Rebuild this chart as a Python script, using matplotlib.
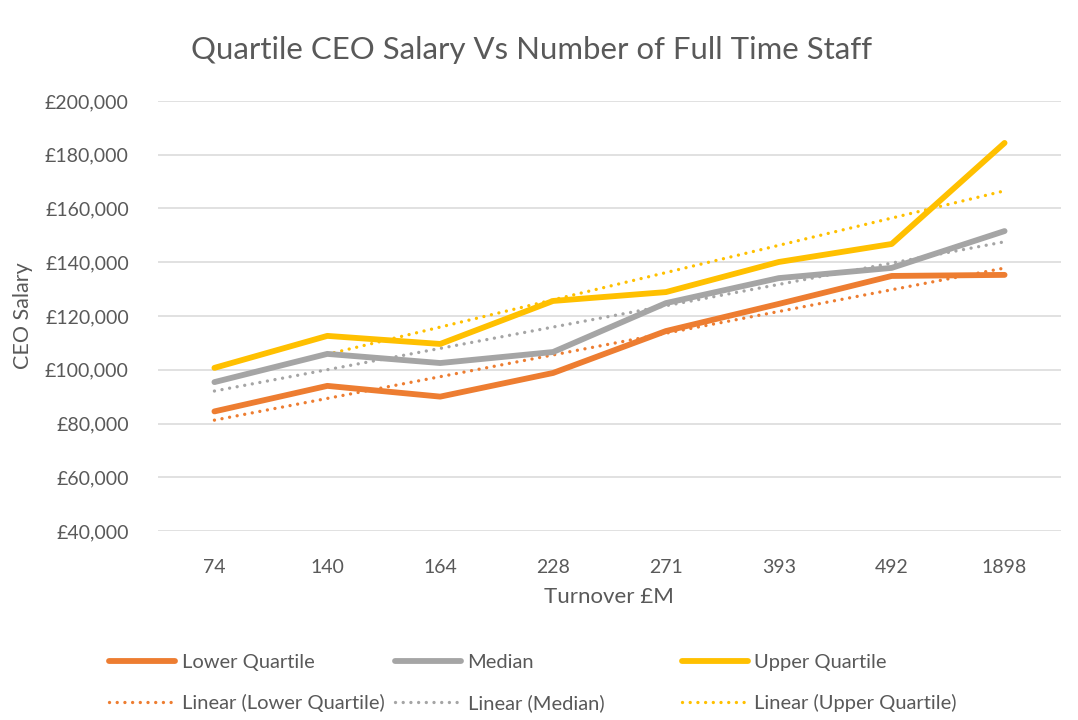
import numpy as np
import matplotlib.pyplot as plt
from matplotlib.ticker import FuncFormatter

# data
turnover = ["74", "140", "164", "228", "271", "393", "492", "1898"]
lower_quartile = [84500, 94000, 90000, 98800, 114400, 124500, 134900, 135300]
median = [95400, 105900, 102500, 106600, 124800, 134100, 137900, 151600]
upper_quartile = [100700, 112600, 109600, 125600, 128900, 140100, 146800, 184400]

series = [
    ("Lower Quartile", lower_quartile, "#ED7D31"),
    ("Median", median, "#A5A5A5"),
    ("Upper Quartile", upper_quartile, "#FFC000"),
]

plt.rcParams['font.family'] = ['Lato', 'DejaVu Sans']
text_col = "#595959"

fig = plt.figure(figsize=(10.78, 7.2), dpi=100)
ax = fig.add_axes([158 / 1078, 1 - 531 / 720, (1061 - 158) / 1078, (531 - 101) / 720])

x = np.arange(len(turnover))
solid, trend = [], []
for name, vals, col in series:
    l, = ax.plot(x, vals, color=col, lw=4.2, solid_capstyle='round',
                 solid_joinstyle='round', label=name, zorder=3)
    solid.append(l)
    # excel style linear trendline (round dots)
    k, b = np.polyfit(x + 1, vals, 1)
    t, = ax.plot(x, k * (x + 1) + b, color=col, lw=2.4, linestyle=(0, (0.01, 2.3)),
                 dash_capstyle='round', label=f"Linear ({name})", zorder=2)
    trend.append(t)

ax.set_xlim(-0.5, len(turnover) - 0.5)
ax.set_ylim(40000, 200000)
ax.set_yticks(range(40000, 200001, 20000))
ax.yaxis.set_major_formatter(FuncFormatter(lambda v, p: f"£{int(v):,}"))
ax.set_xticks(x)
ax.set_xticklabels(turnover)
ax.grid(axis='y', color="#D9D9D9", lw=1.1)
ax.set_axisbelow(True)
for s in ax.spines.values():
    s.set_visible(False)
ax.tick_params(length=0, labelsize=14, labelcolor=text_col)
ax.tick_params(axis='y', pad=21)
ax.tick_params(axis='x', pad=20)

ax.set_ylabel("CEO Salary", fontsize=15.5, color=text_col)
ax.yaxis.set_label_coords(33 / 1078, 1 - 316 / 720, transform=fig.transFigure)
ax.set_xlabel("Turnover £M", fontsize=16, color=text_col)
ax.xaxis.set_label_coords(609 / 1078, 1 - 587 / 720, transform=fig.transFigure)

fig.text(0.4926, 1 - 50 / 720, "Quartile CEO Salary Vs Number of Full Time Staff",
         ha='center', va='center', fontsize=22.4, color=text_col)

# three equally spaced legend columns, like excel
for i, xpos in enumerate([109, 395, 682]):
    fig.legend([solid[i], trend[i]], [solid[i].get_label(), trend[i].get_label()],
               loc='center left', bbox_to_anchor=(xpos / 1078, 1 - 683 / 720),
               frameon=False, fontsize=14.5, labelcolor=text_col, handlelength=3.3,
               handletextpad=0.3, labelspacing=1.15, borderaxespad=0, borderpad=0)

fig.savefig("out.png", dpi=100)
